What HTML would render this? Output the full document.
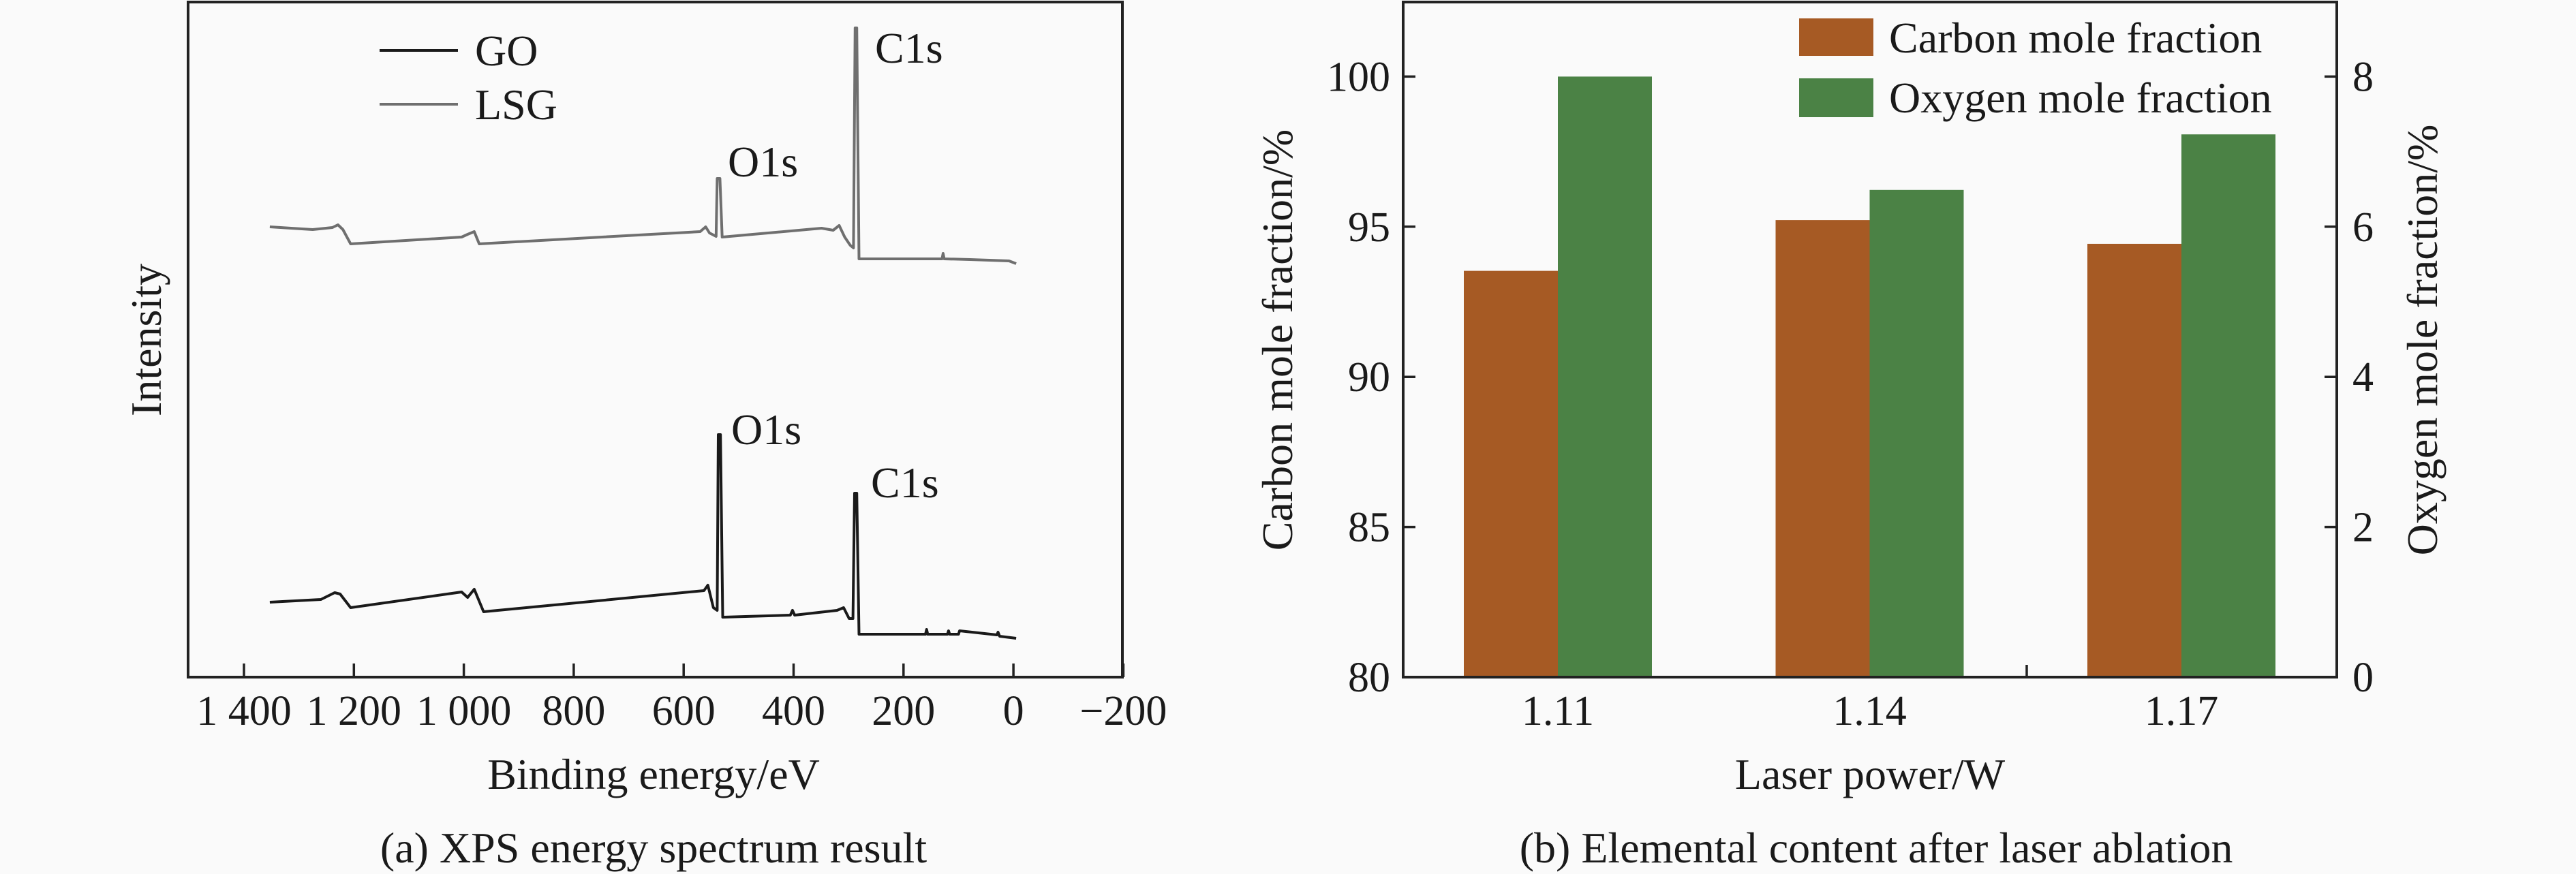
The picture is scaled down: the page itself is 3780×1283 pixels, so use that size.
<!DOCTYPE html>
<html><head><meta charset="utf-8"><style>
html,body{margin:0;padding:0;background:#fafafa;}
svg{display:block;}
svg text{font-family:"Liberation Serif","Times New Roman",serif;}
</style></head><body>
<svg id="fig" width="3780" height="1283" viewBox="0 0 3780 1283">
<g id="left"></g>
<g id="right"></g>
</svg>
<script>
// ---- XPS data ----
const goEnergy = [1353,1260,1235,1225,1206,1004,993,981,964,563,556,546,539,537,533,529,406,402,398,321,309,299,292,289,285,281,160,158,156,120,118,116,100,98,30,28,25,-5];
const goIntensity = [110,114,124,122,102,125,117,129,96,127,135,102,98,356,356,88,91,98,91,98,102,86,86,270,270,63,63,70,63,63,68,63,63,68,62,66,60,57];
const lsgEnergy = [1353,1275,1239,1229,1220,1206,1004,993,981,972,570,560,553,541,539,534,530,349,328,317,307,297,291,288,285,281,130,128,126,79,8,-5];
const lsgIntensity = [661,657,660,664,657,636,646,650,654,636,654,661,652,647,732,732,646,659,656,663,646,634,630,953,953,614,614,622,614,613,611,607];
const xpsTicks = [1400,1200,1000,800,600,400,200,0,-200];
const xpsTickLabels = ["1 400","1 200","1 000","800","600","400","200","0","\u2212200"];
// ---- bar data ----
const powers = ["1.11","1.14","1.17"];
const carbonValues = [93.53,95.22,94.43];
const oxygenValues = [8.0,6.49,7.23];
const carbonTicks = [80,85,90,95,100];
const oxygenTicks = [0,2,4,6,8];

const NS="http://www.w3.org/2000/svg";
function mk(parent,tag,attrs,text){const e=document.createElementNS(NS,tag);for(const k in attrs)e.setAttribute(k,attrs[k]);if(text!==undefined)e.textContent=text;parent.appendChild(e);return e;}

// ---- left panel ----
const L=document.getElementById('left');
const lx0=276,lx1=1647,ly0=3,ly1=994;
const xE=v=>358+(1400-v)/200*161.3;
const yI=v=>994-v;
function line(g,xs,ys,color,name){
  let d='';xs.forEach((v,i)=>{d+=(i?'L':'M')+xE(v).toFixed(1)+' '+yI(ys[i]).toFixed(1);});
  const p=mk(g,'path',{d:d,fill:'none',stroke:color,'stroke-width':4,'stroke-linejoin':'round'});
  
  
}
line(L,lsgEnergy,lsgIntensity,'#6f6f6f','lsg-spectrum');
line(L,goEnergy,goIntensity,'#1a1a1a','go-spectrum');
const lf=mk(L,'rect',{x:lx0,y:ly0,width:lx1-lx0,height:ly1-ly0,fill:'none',stroke:'#222','stroke-width':4});


xpsTicks.forEach((t,i)=>{
  const x=xE(t);
  const tk=mk(L,'line',{x1:x,x2:x,y1:ly1,y2:ly1-20,stroke:'#222','stroke-width':3.5});
  
  
  const tl=mk(L,'text',{x:x,y:1064,'font-size':62,'text-anchor':'middle',fill:'#1a1a1a'},xpsTickLabels[i]);
  
  
});
function txt(g,x,y,s,size,name,anchor,rot){
  const a={x:x,y:y,'font-size':size,fill:'#1a1a1a','text-anchor':anchor||'start'};
  if(rot)a.transform='rotate(-90 '+x+' '+y+')';
  const t=mk(g,'text',a,s);
  
  
  return t;
}
txt(L,959,1158,'Binding energy/eV',64,'x-axis-title','middle');
txt(L,236,499,'Intensity',64,'y-axis-title','middle',true);
txt(L,959,1266,'(a) XPS energy spectrum result',64,'caption-a','middle');
txt(L,1284,92,'C1s',64,'lsg-c1s-label');
txt(L,1068,259,'O1s',64,'lsg-o1s-label');
txt(L,1073,652,'O1s',64,'go-o1s-label');
txt(L,1278,730,'C1s',64,'go-c1s-label');
let lg=mk(L,'line',{x1:557,x2:672,y1:74,y2:74,stroke:'#1a1a1a','stroke-width':4});


txt(L,697,96,'GO',64,'legend-go-label');
lg=mk(L,'line',{x1:557,x2:672,y1:153,y2:153,stroke:'#6f6f6f','stroke-width':4});


txt(L,697,175,'LSG',64,'legend-lsg-label');

// ---- right panel ----
const R=document.getElementById('right');
const rx0=2059,rx1=3429,ry0=3,ry1=994;
const yC=v=>ry1-(v-80)/5*220.4;
const yO=v=>ry1-v/2*220.4;
const xG=i=>2286+i*457.5;
const bw=138;
powers.forEach((p,i)=>{
  const c=mk(R,'rect',{x:xG(i)-bw,y:yC(carbonValues[i]),width:bw,height:ry1-yC(carbonValues[i]),fill:'#a65a24'});
  
  
  const o=mk(R,'rect',{x:xG(i),y:yO(oxygenValues[i]),width:bw,height:ry1-yO(oxygenValues[i]),fill:'#4b8245'});
  
  
  const t=mk(R,'text',{x:xG(i),y:1064,'font-size':62,'text-anchor':'middle',fill:'#1a1a1a'},p);
  
  
});
const rf=mk(R,'rect',{x:rx0,y:ry0,width:rx1-rx0,height:ry1-ry0,fill:'none',stroke:'#222','stroke-width':4});


carbonTicks.forEach(v=>{
  const y=yC(v);
  const tk=mk(R,'line',{x1:rx0,x2:rx0+18,y1:y,y2:y,stroke:'#222','stroke-width':3.5});
  
  
  const t=mk(R,'text',{x:2040,y:y+21,'font-size':62,'text-anchor':'end',fill:'#1a1a1a'},String(v));
  
  
});
oxygenTicks.forEach(v=>{
  const y=yO(v);
  const tk=mk(R,'line',{x1:rx1-18,x2:rx1,y1:y,y2:y,stroke:'#222','stroke-width':3.5});
  
  
  const t=mk(R,'text',{x:3452,y:y+21,'font-size':62,'text-anchor':'start',fill:'#1a1a1a'},String(v));
  
  
});
const mt=mk(R,'line',{x1:2974,x2:2974,y1:ry1,y2:ry1-18,stroke:'#222','stroke-width':3.5});


txt(R,2744,1158,'Laser power/W',64,'x-axis-title','middle');
txt(R,2753,1266,'(b) Elemental content after laser ablation',64,'caption-b','middle');
txt(R,1896,499,'Carbon mole fraction/%',64,'left-y-axis-title','middle',true);
txt(R,3576,499,'Oxygen mole fraction/%',64,'right-y-axis-title','middle',true);
let sw=mk(R,'rect',{x:2640,y:27,width:109,height:55,fill:'#a65a24'});


txt(R,2772,77,'Carbon mole fraction',64,'legend-carbon-label');
sw=mk(R,'rect',{x:2640,y:115,width:109,height:57,fill:'#4b8245'});


txt(R,2772,165,'Oxygen mole fraction',64,'legend-oxygen-label');
</script>
</body></html>
